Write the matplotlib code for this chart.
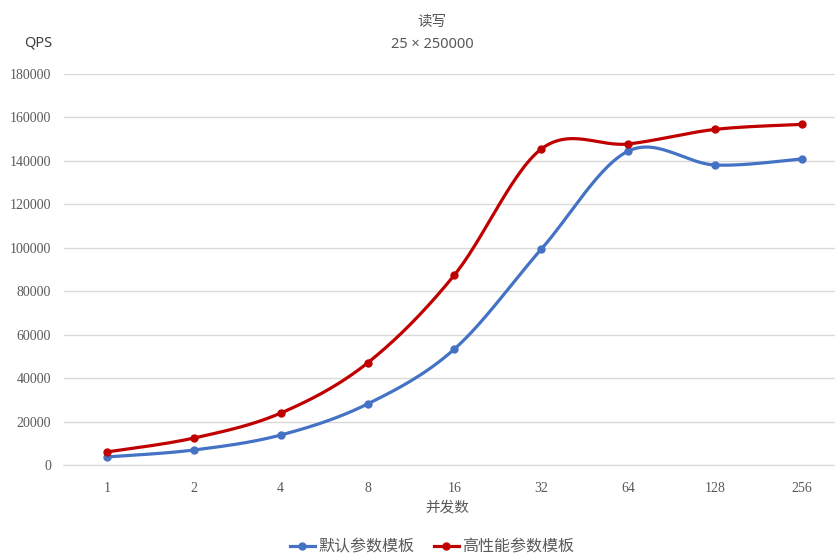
import numpy as np
import matplotlib
matplotlib.use("Agg")
import matplotlib.pyplot as plt
from matplotlib.lines import Line2D

plt.rcParams['font.family'] = ['Noto Sans CJK SC', 'DejaVu Sans']

# Data
concurrency = ["1", "2", "4", "8", "16", "32", "64", "128", "256"]
default_qps = [3700, 6900, 13800, 28100, 53400, 99400, 144500, 138100, 140900]
highperf_qps = [6000, 12400, 23900, 47000, 87500, 145500, 147800, 154500, 156800]

BLUE = "#4472C4"
RED = "#C00000"


def smooth(y, n=30):
    """Catmull-Rom spline through the points (like Excel smoothed lines)."""
    y = np.asarray(y, dtype=float)
    x = np.arange(len(y), dtype=float)
    px = np.concatenate([[x[0]], x, [x[-1]]])
    py = np.concatenate([[y[0]], y, [y[-1]]])
    xs, ys = [], []
    for i in range(1, len(px) - 2):
        t = np.linspace(0, 1, n, endpoint=False)
        for p, out in ((px, xs), (py, ys)):
            p0, p1, p2, p3 = p[i - 1], p[i], p[i + 1], p[i + 2]
            out.append(0.5 * ((2 * p1) + (-p0 + p2) * t
                              + (2 * p0 - 5 * p1 + 4 * p2 - p3) * t ** 2
                              + (-p0 + 3 * p1 - 3 * p2 + p3) * t ** 3))
    xs.append([x[-1]])
    ys.append([y[-1]])
    return np.concatenate(xs), np.concatenate(ys)


fig = plt.figure(figsize=(8.35, 5.56), dpi=100)
ax = fig.add_axes([63.5 / 835, 1 - 465 / 556, (835 - 63.5) / 835, (465 - 74) / 556])

x = np.arange(len(concurrency))
for vals, color in ((default_qps, BLUE), (highperf_qps, RED)):
    sx, sy = smooth(vals)
    ax.plot(sx, sy, color=color, lw=2.3, solid_capstyle="round", zorder=3)
    ax.plot(x, vals, "o", color=color, ms=5, zorder=4)

ax.set_ylim(0, 180000)
ax.set_yticks(np.arange(0, 180001, 20000))
ax.set_xlim(-0.5, 8.38)
ax.set_xticks(x)
ax.set_xticklabels(concurrency)
ax.grid(axis="y", color="#D9D9D9", lw=1)
ax.set_axisbelow(True)
for s in ("top", "right", "left"):
    ax.spines[s].set_visible(False)
ax.spines["bottom"].set_color("#D9D9D9")
ax.tick_params(length=0, colors="#595959", labelsize=10)
ax.tick_params(axis="y", pad=9)
ax.tick_params(axis="x", pad=12)
for lab in ax.get_xticklabels() + ax.get_yticklabels():
    lab.set_family("Liberation Serif")

fig.text(432 / 835, 1 - 22 / 556, "读写", ha="center", va="center", fontsize=10.5, color="#595959")
fig.text(432 / 835, 1 - 45 / 556, "25 × 250000", ha="center", va="center", fontsize=10.5,
         color="#595959", family=["Noto Sans", "DejaVu Sans"])
fig.text(38 / 835, 1 - 43 / 556, "QPS", ha="center", va="center", fontsize=10.5,
         color="#404040", family=["Noto Sans", "DejaVu Sans"])
fig.text(447 / 835, 1 - 508 / 556, "并发数", ha="center", va="center", fontsize=10.5, color="#595959")

handles = [Line2D([], [], color=BLUE, lw=2.3, marker="o", ms=5),
           Line2D([], [], color=RED, lw=2.3, marker="o", ms=5)]
fig.legend(handles, ["默认参数模板", "高性能参数模板"], loc="center",
           bbox_to_anchor=(432 / 835, 1 - 547 / 556), ncol=2, frameon=False,
           fontsize=11.5, handlelength=1.6, handletextpad=0.2, columnspacing=1.2,
           labelcolor="#595959")

fig.savefig("out.png", dpi=100)
